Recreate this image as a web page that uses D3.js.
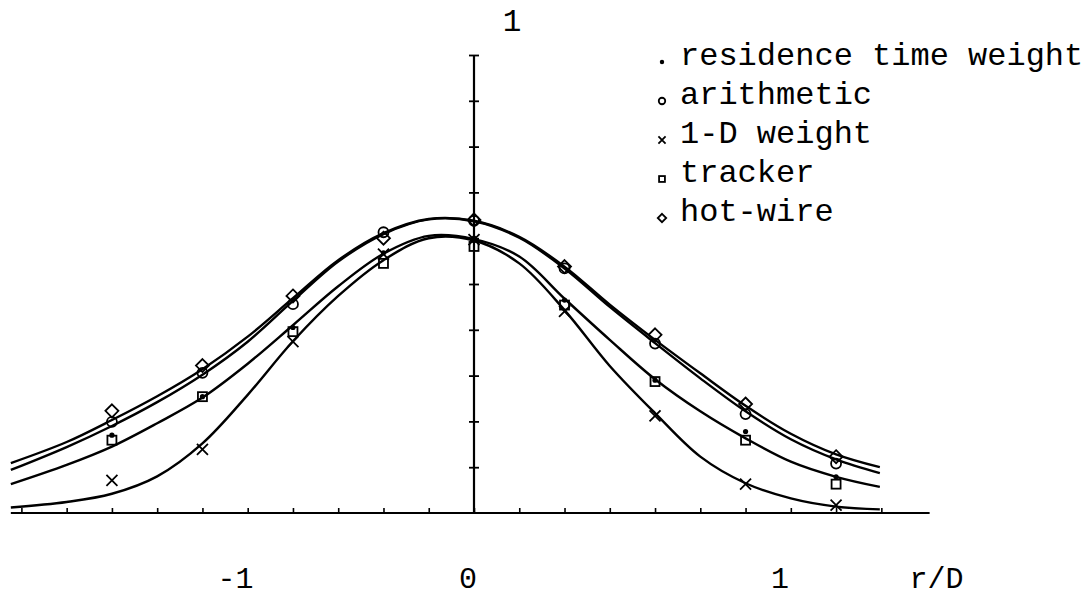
<!DOCTYPE html>
<html>
<head>
<meta charset="utf-8">
<script src="https://cdn.jsdelivr.net/npm/d3@7"></script>
<style>
  html, body { margin: 0; padding: 0; background: #fff; }
  svg { display: block; }
  text { font-family: "Liberation Mono", "DejaVu Sans Mono", monospace; fill: #000; }
</style>
</head>
<body>
<svg id="chart" width="1086" height="598"></svg>
<script>
// ---- data ----
const rD = [-1.2, -0.9, -0.6, -0.3, 0, 0.3, 0.6, 0.9, 1.2];
const residence  = [0.170, 0.254, 0.405, 0.568, 0.600, 0.465, 0.290, 0.178, 0.079];
const arithmetic = [0.199, 0.306, 0.456, 0.613, 0.638, 0.534, 0.370, 0.216, 0.108];
const oneD       = [0.071, 0.139, 0.374, 0.565, 0.597, 0.440, 0.212, 0.063, 0.017];
const tracker    = [0.159, 0.254, 0.396, 0.545, 0.582, 0.454, 0.287, 0.159, 0.063];
const hotwire    = [0.223, 0.322, 0.474, 0.600, 0.640, 0.538, 0.389, 0.238, 0.123];

// fitted curves
const fitX       = [-1.535, -1.35, -1.2, -1.05, -0.9, -0.75, -0.6, -0.45, -0.3, -0.15, 0, 0.15, 0.3, 0.45, 0.6, 0.75, 0.9, 1.05, 1.2, 1.345];
const fitHot     = [0.109, 0.155, 0.203, 0.255, 0.314, 0.385, 0.469, 0.552, 0.611, 0.642, 0.638, 0.603, 0.538, 0.455, 0.378, 0.305, 0.234, 0.173, 0.128, 0.100];
const fitArith   = [0.094, 0.144, 0.190, 0.242, 0.302, 0.374, 0.463, 0.549, 0.609, 0.641, 0.637, 0.601, 0.534, 0.450, 0.371, 0.294, 0.222, 0.161, 0.117, 0.087];
const fitTracker = [0.063, 0.105, 0.145, 0.196, 0.252, 0.326, 0.410, 0.495, 0.566, 0.605, 0.598, 0.560, 0.468, 0.378, 0.292, 0.222, 0.163, 0.112, 0.079, 0.057];
const fit1D      = [0.012, 0.024, 0.042, 0.080, 0.152, 0.258, 0.375, 0.474, 0.552, 0.600, 0.595, 0.545, 0.443, 0.321, 0.218, 0.123, 0.065, 0.032, 0.014, 0.008];

const xTicks = d3.range(-10, 10).map(k => k * 0.15);
const yTicks = d3.range(1, 11).map(k => k / 10);
const xTickLabels = [
  { t: "-1", v: -0.79 },
  { t: "0",  v: -0.02 },
  { t: "1",  v: 1.014 },
  { t: "r/D", v: 1.533 }
];
const yTickLabels = [{ t: "1", x: 0.126, v: 1.053 }];

const legendItems = [
  { name: "residence time weight", sym: "dot" },
  { name: "arithmetic", sym: "circle" },
  { name: "1-D weight", sym: "cross" },
  { name: "tracker", sym: "square" },
  { name: "hot-wire", sym: "diamond" }
];

// ---- scales ----
const x = d3.scaleLinear().domain([-1.5, 1.5]).range([21.4, 926.6]);
const y = d3.scaleLinear().domain([0, 1]).range([513, 55]);

const svg = d3.select("#chart");

// ---- axes ----
svg.append("line")
  .attr("x1", x(-1.535)).attr("x2", x(1.51))
  .attr("y1", y(0)).attr("y2", y(0))
  .attr("stroke", "#000").attr("stroke-width", 2.2);

svg.append("g")
  .attr("transform", `translate(0,${y(0)})`)
  .call(d3.axisBottom(x).tickValues(xTicks).tickSize(-5).tickSizeOuter(0).tickFormat(""))
  .call(g => g.select(".domain").remove())
  .call(g => g.selectAll(".tick line").attr("stroke", "#000").attr("stroke-width", 1.6));

svg.append("line")
  .attr("x1", x(0)).attr("x2", x(0))
  .attr("y1", y(0)).attr("y2", y(1))
  .attr("stroke", "#000").attr("stroke-width", 2.2);

[d3.axisLeft, d3.axisRight].forEach(ax => {
  svg.append("g")
    .attr("transform", `translate(${x(0)},0)`)
    .call(ax(y).tickValues(yTicks).tickSize(5).tickSizeOuter(0).tickFormat(""))
    .call(g => g.select(".domain").remove())
    .call(g => g.selectAll(".tick line").attr("stroke", "#000").attr("stroke-width", 1.8));
});

svg.selectAll(".xlab").data(xTickLabels).enter().append("text")
  .attr("class", "xlab")
  .attr("x", d => x(d.v)).attr("y", 588)
  .attr("text-anchor", "middle")
  .attr("font-size", 30)
  .text(d => d.t);

svg.selectAll(".ylab").data(yTickLabels).enter().append("text")
  .attr("class", "ylab")
  .attr("x", d => x(d.x)).attr("y", d => y(d.v))
  .attr("text-anchor", "middle")
  .attr("font-size", 31)
  .text(d => d.t);

// ---- fitted curves ----
const line = d3.line()
  .x(d => x(d[0])).y(d => y(d[1]))
  .curve(d3.curveCatmullRom.alpha(0.5));

[fitHot, fitArith, fitTracker, fit1D].forEach(arr => {
  svg.append("path")
    .datum(fitX.map((v, i) => [v, arr[i]]))
    .attr("d", line)
    .attr("fill", "none")
    .attr("stroke", "#000")
    .attr("stroke-width", 2.4);
});

// ---- markers ----
function drawSymbol(g, sym, cx, cy, s) {
  const sw = 1.8;
  if (sym === "dot") {
    g.append("circle").attr("cx", cx).attr("cy", cy).attr("r", 2.6 * s).attr("fill", "#000");
  } else if (sym === "circle") {
    g.append("circle").attr("cx", cx).attr("cy", cy).attr("r", 5 * s)
      .attr("fill", "none").attr("stroke", "#000").attr("stroke-width", sw);
  } else if (sym === "cross") {
    const h = 5.5 * s;
    g.append("path")
      .attr("d", `M${cx - h},${cy - h}L${cx + h},${cy + h}M${cx - h},${cy + h}L${cx + h},${cy - h}`)
      .attr("stroke", "#000").attr("stroke-width", sw).attr("fill", "none");
  } else if (sym === "square") {
    const h = 4.5 * s;
    g.append("rect").attr("x", cx - h).attr("y", cy - h).attr("width", 2 * h).attr("height", 2 * h)
      .attr("fill", "none").attr("stroke", "#000").attr("stroke-width", sw);
  } else if (sym === "diamond") {
    const h = 6.5 * s;
    g.append("path")
      .attr("d", `M${cx},${cy - h}L${cx + h},${cy}L${cx},${cy + h}L${cx - h},${cy}Z`)
      .attr("fill", "none").attr("stroke", "#000").attr("stroke-width", sw);
  }
}

const series = [
  { vals: tracker, sym: "square" },
  { vals: arithmetic, sym: "circle" },
  { vals: hotwire, sym: "diamond" },
  { vals: oneD, sym: "cross" },
  { vals: residence, sym: "dot" }
];
const gm = svg.append("g");
series.forEach(s => {
  rD.forEach((v, i) => drawSymbol(gm, s.sym, x(v), y(s.vals[i]), 1));
});

// ---- legend ----
const lg = svg.append("g");
legendItems.forEach((d, i) => {
  const by = 65 + i * 39;
  drawSymbol(lg, d.sym, 662, by - 3, d.sym === "dot" ? 0.85 : 0.65);
  lg.append("text")
    .attr("x", 680).attr("y", by)
    .attr("font-size", 32)
    .text(d.name);
});
</script>
</body>
</html>
